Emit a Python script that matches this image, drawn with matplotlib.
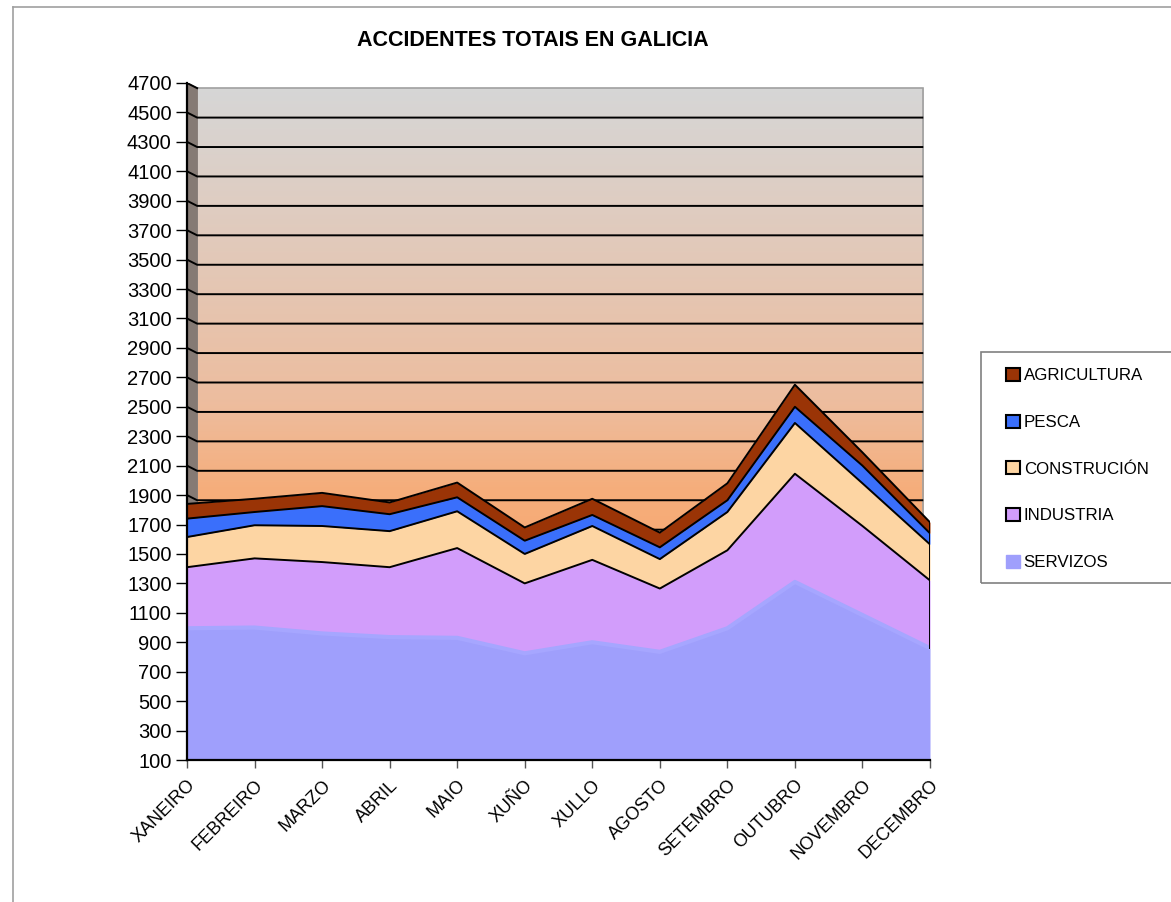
import numpy as np
import matplotlib
matplotlib.use("Agg")
import matplotlib.pyplot as plt
from matplotlib.patches import Rectangle, Patch

plt.rcParams['font.family'] = ['Liberation Sans', 'DejaVu Sans']

# Monthly accidents by sector
months = ['XANEIRO', 'FEBREIRO', 'MARZO', 'ABRIL', 'MAIO', 'XUÑO',
          'XULLO', 'AGOSTO', 'SETEMBRO', 'OUTUBRO', 'NOVEMBRO', 'DECEMBRO']
servizos = [995, 1000, 960, 935, 930, 825, 900, 835, 995, 1310, 1085, 860]
industria = [415, 470, 485, 475, 610, 475, 560, 430, 530, 735, 605, 460]
construcion = [205, 225, 245, 245, 250, 200, 230, 200, 260, 345, 290, 245]
pesca = [125, 90, 135, 115, 95, 90, 75, 80, 80, 110, 120, 75]
agricultura = [100, 90, 90, 80, 100, 90, 110, 100, 115, 150, 90, 75]

series = [('SERVIZOS', servizos, '#9f9ffc'),
          ('INDUSTRIA', industria, '#d29dfb'),
          ('CONSTRUCIÓN', construcion, '#fdd5a3'),
          ('PESCA', pesca, '#3a6ffb'),
          ('AGRICULTURA', agricultura, '#9a3406')]

yticks = np.arange(100, 4701, 200)

fig = plt.figure(figsize=(11.71, 9.02), dpi=100)
W, H = 1171, 902
ax = fig.add_axes([187 / W, 1 - 760 / H, (930 - 187) / W, (760 - 83) / H])

x = np.arange(len(months))
ax.set_xlim(0, len(months) - 1)
ax.set_ylim(100, 4700)

# back wall with gradient (grey at top -> orange lower down)
off = 35
wall_top = 4700 - off
t = np.linspace(0, 1, 256)
stops = [0.0, 0.47, 0.6, 1.0]
cols = np.array([[0.84, 0.84, 0.84],
                 [0.93, 0.74, 0.62],
                 [0.965, 0.68, 0.48],
                 [0.98, 0.62, 0.38]])
grad = np.stack([np.interp(t, stops, cols[:, i]) for i in range(3)], axis=1)
grad = grad[:, None, :]
ax.imshow(grad, extent=(0.15, 10.9, 100, wall_top), aspect='auto', zorder=0)
ax.add_patch(Rectangle((0.15, 100), 10.75, wall_top - 100, fill=False,
                       ec='#a0a0a0', lw=1.2, zorder=0.5))
# left side wall
ax.fill([0, 0.15, 0.15, 0], [100, 100, wall_top, 4700], color='#857a74',
        zorder=0.6)

# gridlines on the back wall
for v in yticks[1:-1]:
    ax.plot([0, 0.15, 10.9], [v, v - off, v - off], color='black', lw=1.4,
            zorder=1, solid_capstyle='butt')
ax.plot([0, 0.15], [4700, wall_top], color='black', lw=1.4, zorder=1)

# stacked areas
base = np.zeros(len(months))
for name, vals, col in series:
    vals = np.array(vals, dtype=float)
    topv = base + vals
    if name == 'SERVIZOS':
        ax.fill_between(x, 0, topv, color=col, lw=0, zorder=2)
        ax.plot(x, topv, color='#a6a6ff', lw=3, zorder=2.1)
    else:
        ax.fill_between(x, base, topv, color=col, lw=0, zorder=2)
        ax.plot(x, topv, color='black', lw=1.4, zorder=3)
    base = topv
ax.plot([11, 11], [servizos[-1], base[-1]], color='black', lw=1.4, zorder=3)

for s in ['top', 'right']:
    ax.spines[s].set_visible(False)
ax.spines['left'].set_linewidth(1.6)
ax.spines['bottom'].set_linewidth(1.6)
ax.spines['left'].set_zorder(4)
ax.spines['bottom'].set_zorder(4)

ax.set_yticks(yticks)
ax.set_yticklabels([str(v) for v in yticks], fontsize=14.5)
ax.set_xticks(x)
ax.set_xticklabels(months, rotation=45, ha='right', rotation_mode='anchor',
                   fontsize=13)
ax.tick_params(axis='y', length=8, width=1, pad=3)
ax.tick_params(axis='x', length=6, width=1, pad=6, color='#555555')

fig.text(533 / W, 1 - 40 / H, 'ACCIDENTES TOTAIS EN GALICIA', ha='center',
         va='center', fontsize=15.5, fontweight='bold')

# outer frame lines
fig.add_artist(plt.Line2D([13 / W, 1], [1 - 7 / H, 1 - 7 / H], color='#a0a0a0', lw=1.2))
fig.add_artist(plt.Line2D([13 / W, 13 / W], [0, 1 - 7 / H], color='#a0a0a0', lw=1.2))

# legend box
fig.add_artist(Rectangle((981 / W, 1 - 583 / H), (1180 - 981) / W, (583 - 352) / H,
                         transform=fig.transFigure, fill=False, ec='#808080', lw=1.2))
handles = []
for name, vals, col in series[::-1]:
    if name == 'SERVIZOS':
        handles.append(Patch(facecolor=col, edgecolor=col, label=name))
    else:
        handles.append(Patch(facecolor=col, edgecolor='black', lw=1.5, label=name))
fig.legend(handles=handles, loc='center left',
           bbox_to_anchor=(1006 / W, 1 - 469 / H), frameon=False, fontsize=12.2,
           labelspacing=1.85, handlelength=0.8, handleheight=0.8,
           handletextpad=0.25, borderpad=0, borderaxespad=0)

fig.savefig('out.png', dpi=100)
